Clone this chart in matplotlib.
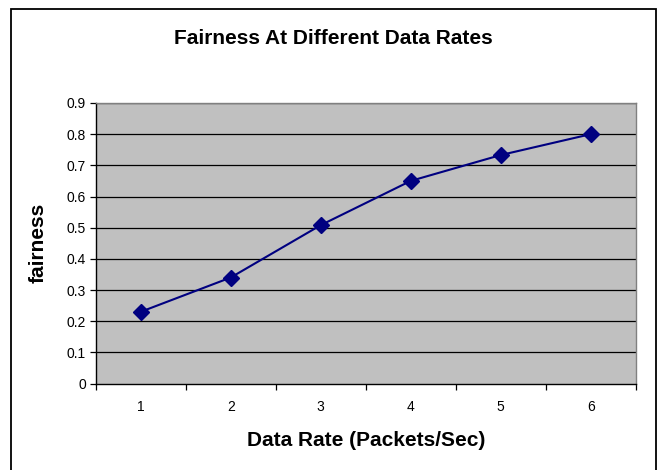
import numpy as np
import matplotlib
matplotlib.use("Agg")
from matplotlib import pyplot as plt
from matplotlib.patches import Rectangle

plt.rcParams['font.family'] = ['Liberation Sans', 'DejaVu Sans']

# fairness measured at each data rate
rates = [1, 2, 3, 4, 5, 6]
fairness = [0.23, 0.34, 0.508, 0.65, 0.733, 0.80]
yticks = [0, 0.1, 0.2, 0.3, 0.4, 0.5, 0.6, 0.7, 0.8, 0.9]

fig = plt.figure(figsize=(6.58, 4.70), dpi=100)
fig.patch.set_facecolor("white")

# chart frame
fig.patches.append(Rectangle((11 / 658, -0.02), 644.5 / 658, 1 - 9 / 470 + 0.02,
                             transform=fig.transFigure, fill=False,
                             edgecolor="black", linewidth=1.3))

ax = fig.add_axes([95.7 / 658, 1 - 383.5 / 470, 540 / 658, 280.5 / 470])
ax.set_facecolor("#C0C0C0")

for y in yticks[1:]:
    ax.axhline(y, color="black", linewidth=0.9, zorder=1)

ax.plot(rates, fairness, color="#000080", linewidth=1.5, marker="D",
        markersize=8.5, markerfacecolor="#000080", markeredgecolor="#000080",
        zorder=3)

ax.set_xlim(0.5, 6.5)
ax.set_ylim(0, 0.9)
ax.set_yticks(yticks)
ax.set_yticklabels([("%g" % v) for v in yticks])

# category ticks sit between the points
ax.set_xticks(np.arange(0.5, 7.0, 1.0))
ax.set_xticklabels([])
ax.set_xticks(rates, minor=True)
ax.set_xticklabels([str(r) for r in rates], minor=True)
ax.tick_params(axis="x", which="minor", length=0, pad=12, labelsize=10)
ax.tick_params(axis="x", which="major", direction="out", length=4,
               width=0.9, color="black")
ax.tick_params(axis="y", direction="out", length=4, width=0.9,
               labelsize=10, pad=3)

ax.spines["left"].set_color("black")
ax.spines["bottom"].set_color("black")
ax.spines["top"].set_color("#808080")
ax.spines["right"].set_color("#808080")
for s in ax.spines.values():
    s.set_linewidth(1.0)

fig.text(333 / 658, 1 - 39 / 470, "Fairness At Different Data Rates",
         ha="center", va="center", fontsize=15, fontweight="bold")
ax.set_xlabel("Data Rate (Packets/Sec)", fontsize=15, fontweight="bold",
              labelpad=12)
ax.set_ylabel("fairness", fontsize=15, fontweight="bold", labelpad=14)

fig.savefig("out.png", dpi=100)
